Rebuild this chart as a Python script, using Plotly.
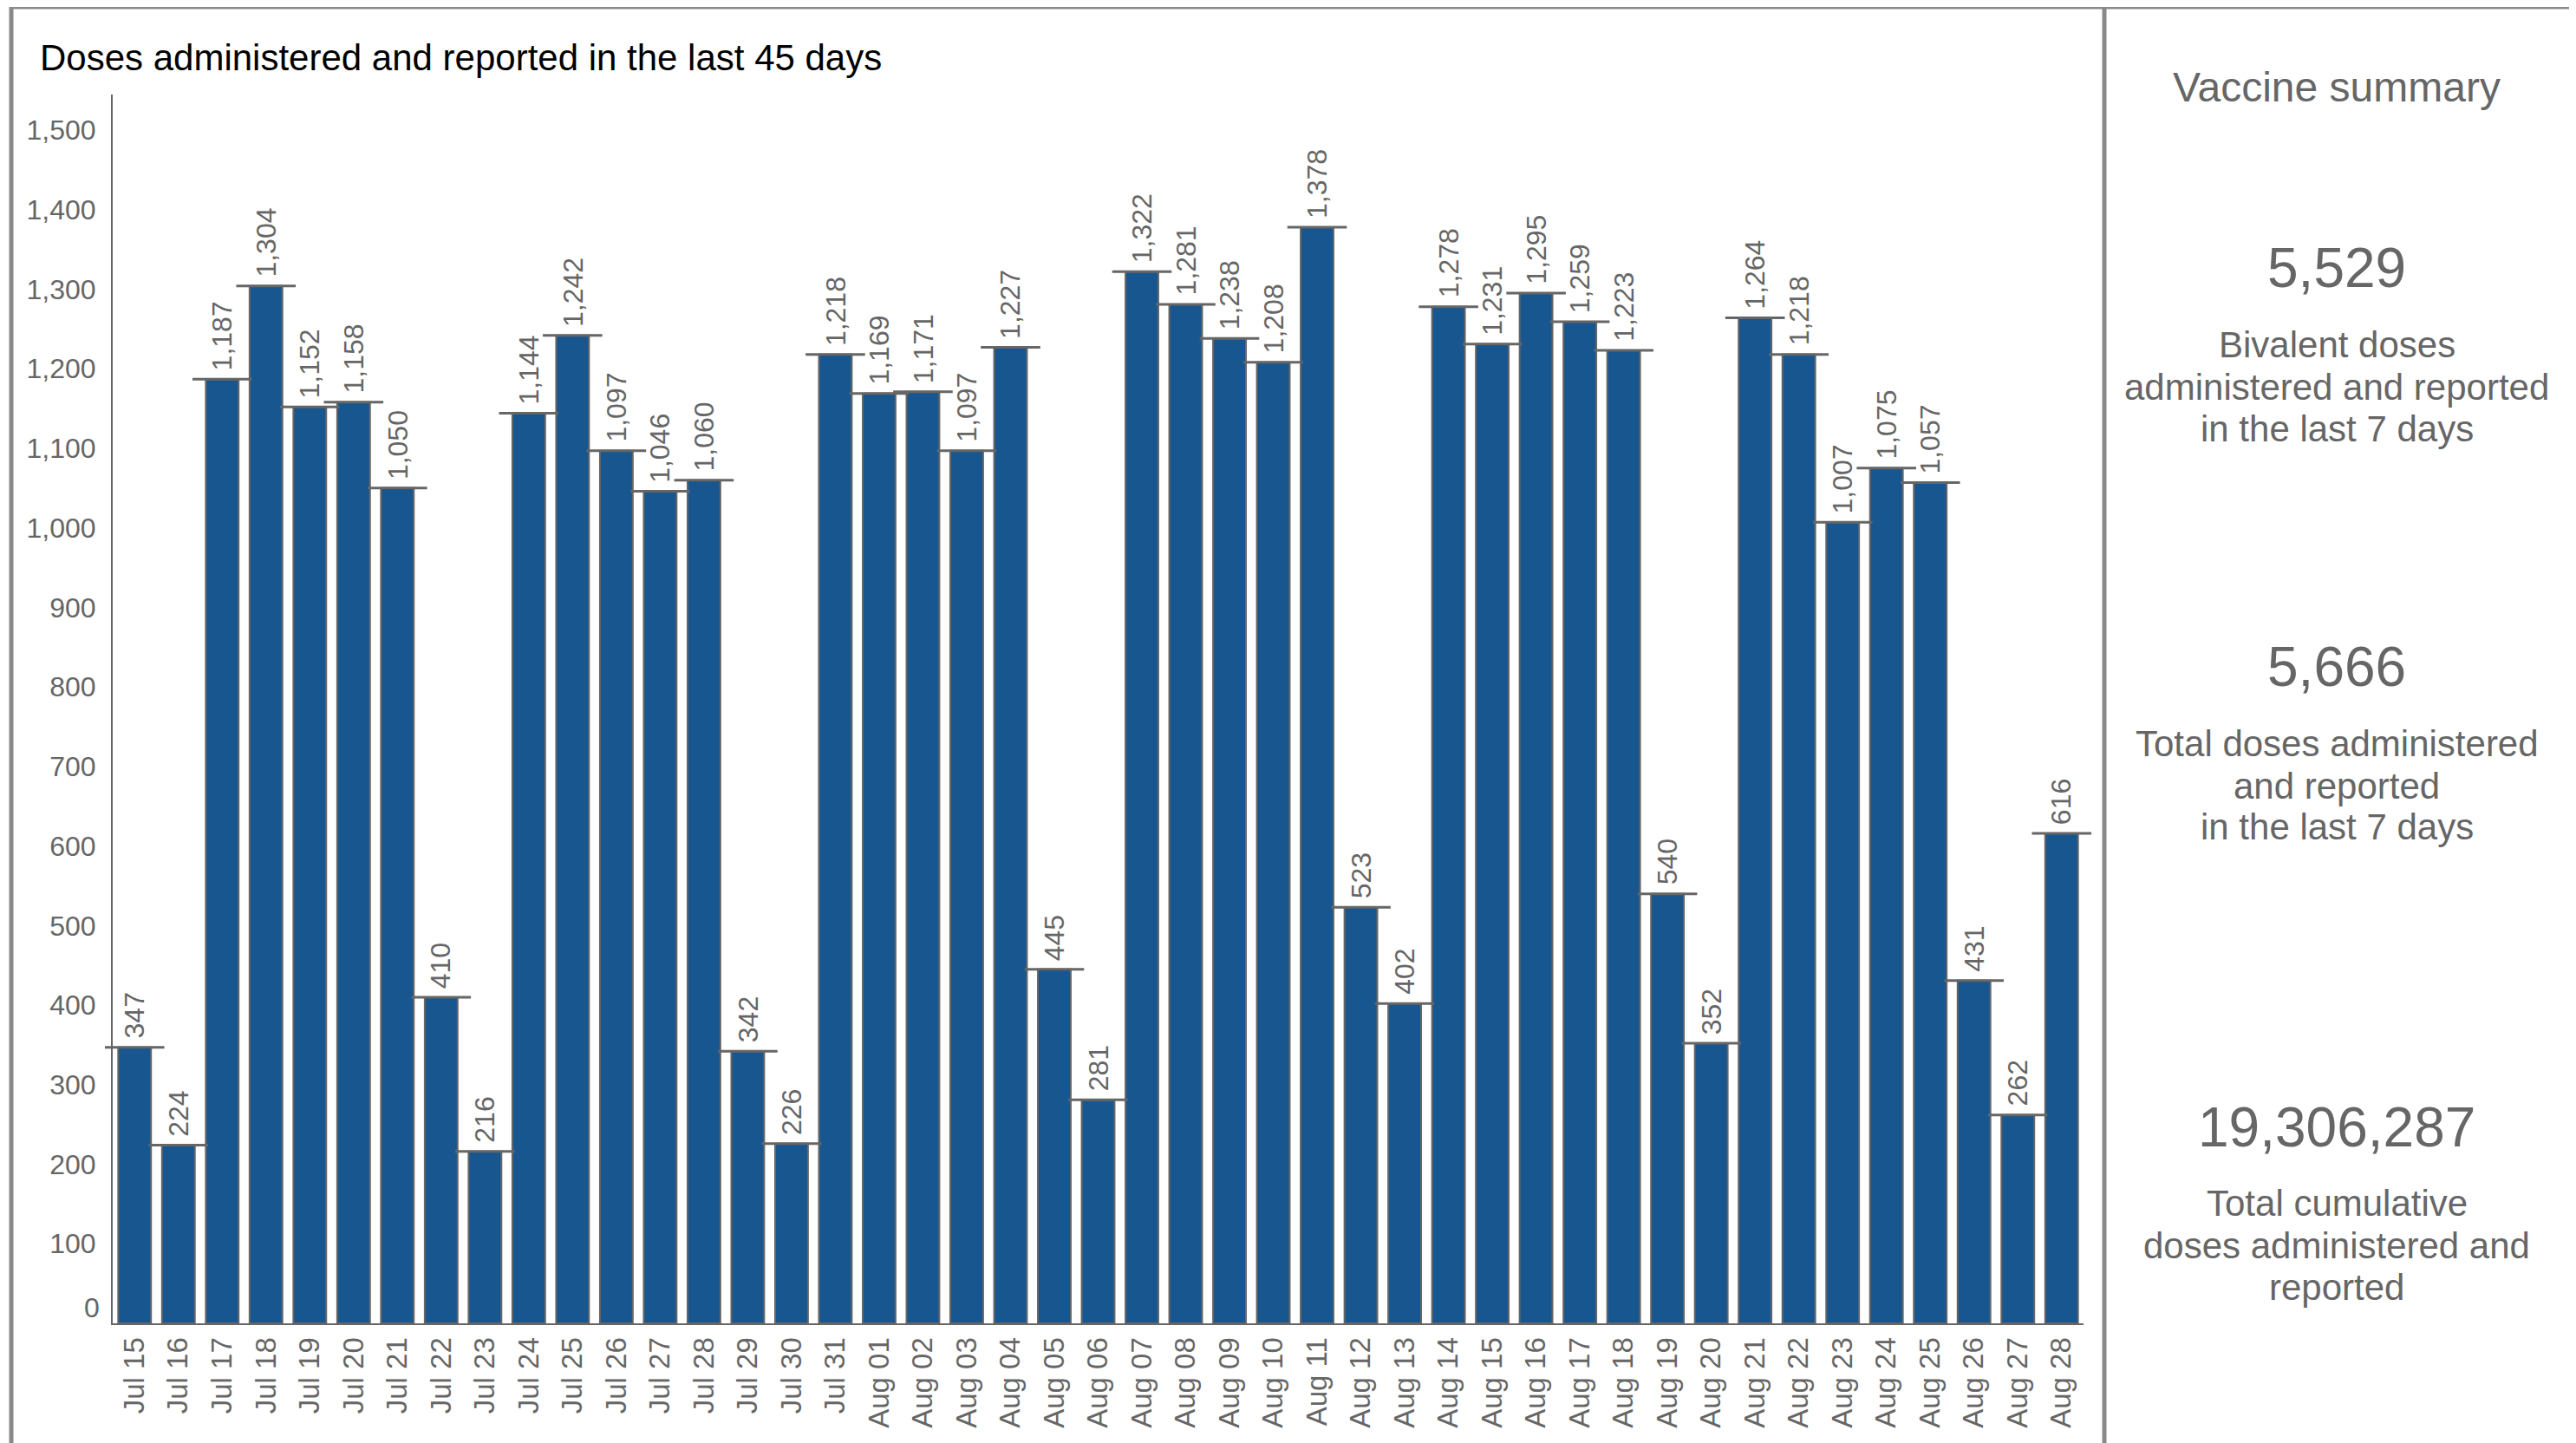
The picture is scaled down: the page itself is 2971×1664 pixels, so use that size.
import plotly.graph_objects as go

# page body has an 8px default margin, so the figure is offset by (8, 8)
OFF = 8
W, H = 2971 - OFF, 1664 - OFF

dates = ["Jul 15", "Jul 16", "Jul 17", "Jul 18", "Jul 19", "Jul 20", "Jul 21", "Jul 22",
         "Jul 23", "Jul 24", "Jul 25", "Jul 26", "Jul 27", "Jul 28", "Jul 29", "Jul 30",
         "Jul 31", "Aug 01", "Aug 02", "Aug 03", "Aug 04", "Aug 05", "Aug 06", "Aug 07",
         "Aug 08", "Aug 09", "Aug 10", "Aug 11", "Aug 12", "Aug 13", "Aug 14", "Aug 15",
         "Aug 16", "Aug 17", "Aug 18", "Aug 19", "Aug 20", "Aug 21", "Aug 22", "Aug 23",
         "Aug 24", "Aug 25", "Aug 26", "Aug 27", "Aug 28"]
doses = [347, 224, 1187, 1304, 1152, 1158, 1050, 410, 216, 1144, 1242, 1097, 1046, 1060,
         342, 226, 1218, 1169, 1171, 1097, 1227, 445, 281, 1322, 1281, 1238, 1208, 1378,
         523, 402, 1278, 1231, 1295, 1259, 1223, 540, 352, 1264, 1218, 1007, 1075, 1057,
         431, 262, 616]

y_ticks = list(range(100, 1501, 100))
y_zero_label = "0"

summary_title = "Vaccine summary"
summary_values = ["5,529", "5,666", "19,306,287"]
summary_labels = [
    ["Bivalent doses", "administered and reported", "in the last 7 days"],
    ["Total doses administered", "and reported", "in the last 7 days"],
    ["Total cumulative", "doses administered and", "reported"],
]
chart_title = "Doses administered and reported in the last 45 days"

FONT = "Arial, Liberation Sans, sans-serif"
GRAY = "#666666"
BAR = "#17568F"
BORDER = "#898989"


def px(x):
    return (x - OFF) / W


def py(y):
    return 1 - (y - OFF) / H


fig = go.Figure()
fig.add_trace(go.Bar(
    x=dates, y=doses,
    marker=dict(color=BAR, line=dict(color=GRAY, width=2)),
    hoverinfo="x+y",
))
# caps on top of each bar
fig.add_trace(go.Scatter(
    x=dates, y=doses, mode="markers",
    marker=dict(symbol="line-ew", size=49, line=dict(color=GRAY, width=3)),
    cliponaxis=False, hoverinfo="skip",
))

fig.update_layout(
    width=W, height=H,
    margin=dict(l=0, r=0, t=0, b=0),
    paper_bgcolor="white", plot_bgcolor="white",
    showlegend=False, bargap=0.25,
    font=dict(family=FONT, color=GRAY),
    xaxis=dict(
        domain=[px(130), px(2403)], range=[-0.5, 44.5], type="category",
        showline=True, linecolor=GRAY, linewidth=2, showgrid=False, zeroline=False,
        tickangle=-90, tickfont=dict(family=FONT, size=33, color=GRAY),
        ticks="outside", ticklen=1, tickcolor="white",
    ),
    yaxis=dict(
        domain=[py(1526), py(109)], range=[0, (1526 - 109) / ((1526 - 150) / 1500)],
        tickvals=y_ticks, tickformat=",d",
        showline=True, linecolor=GRAY, linewidth=2, showgrid=False, zeroline=False,
        tickfont=dict(family=FONT, size=32, color=GRAY),
        ticks="outside", ticklen=11, tickcolor="white",
    ),
)

shapes = [
    dict(type="rect", xref="paper", yref="paper", x0=px(13), x1=px(2966), y0=py(1700), y1=py(8),
         line=dict(color=BORDER, width=5)),
    dict(type="line", xref="paper", yref="paper", x0=px(2427), x1=px(2427), y0=py(1700), y1=py(8),
         line=dict(color=BORDER, width=5)),
]
fig.update_layout(shapes=shapes)

ann = []
# value labels above bars
for d, v in zip(dates, doses):
    ann.append(dict(text=f"{v:,}", x=d, y=v, xref="x", yref="y",
                    textangle=-90, xanchor="center", yanchor="bottom", yshift=8,
                    showarrow=False, font=dict(family=FONT, size=32, color=GRAY)))
# zero tick label (drawn slightly raised, as in the original)
ann.append(dict(text=y_zero_label, x=px(130), y=0, xref="paper", yref="y",
                xanchor="right", yanchor="middle", xshift=-13, yshift=18,
                showarrow=False, font=dict(family=FONT, size=32, color=GRAY)))
ann.append(dict(text=chart_title, x=px(44), y=py(66), xref="paper", yref="paper",
                xanchor="left", yanchor="middle", showarrow=False,
                font=dict(family=FONT, size=42, color="black")))
cx = px(2695)
ann.append(dict(text=summary_title, x=cx, y=py(100), xref="paper", yref="paper",
                xanchor="center", yanchor="middle", showarrow=False,
                font=dict(family=FONT, size=48, color=GRAY)))
value_y = [309, 769, 1300]
label_y = [[398, 447, 495], [858, 906, 953], [1387, 1436, 1484]]
for v, vy, labs, ly in zip(summary_values, value_y, summary_labels, label_y):
    ann.append(dict(text=v, x=cx, y=py(vy), xref="paper", yref="paper",
                    xanchor="center", yanchor="middle", showarrow=False,
                    font=dict(family=FONT, size=64, color=GRAY)))
    for t, yy in zip(labs, ly):
        ann.append(dict(text=t, x=cx, y=py(yy), xref="paper", yref="paper",
                        xanchor="center", yanchor="middle", showarrow=False,
                        font=dict(family=FONT, size=42, color=GRAY)))
fig.update_layout(annotations=ann)

fig.write_html("out.html")
